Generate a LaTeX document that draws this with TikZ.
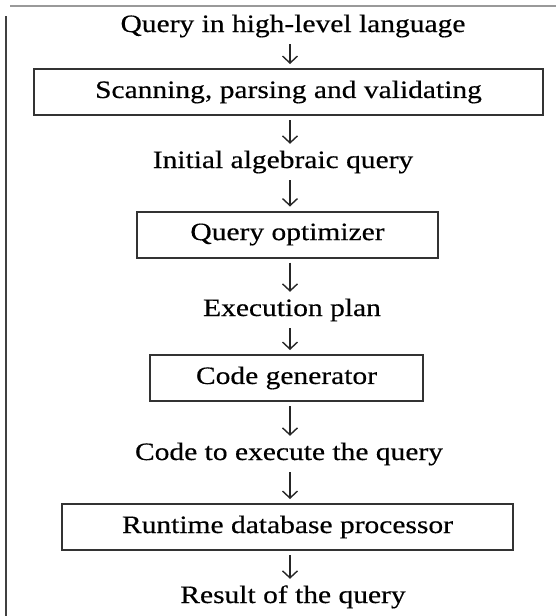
\documentclass[tikz,border=0pt]{standalone}
\usepackage{fontspec}
\setmainfont{Liberation Serif}[FakeStretch=1.18, FakeBold=0.4]
\usetikzlibrary{arrows.meta}

\begin{document}
\begin{tikzpicture}[
        x=1pt, y=-1pt, % координаты в пикселях, ось y вниз
        flowfont/.style={font=\fontsize{25pt}{30pt}\selectfont},
        stage/.style={draw=black!80, line width=2pt, minimum height=46pt, inner sep=0pt, flowfont}, % этапы
        flowtext/.style={anchor=base, inner xsep=0pt, inner ysep=2pt, text height=18pt, text depth=6pt, flowfont}, % промежуточные данные
        flow/.style={draw=black!85, line width=1.4pt, -{Straight Barb[length=7pt, width=15pt]}, shorten <=4pt, shorten >=4pt},
    ]

    \useasboundingbox (0,0) rectangle (556,616);
    \draw[black!40, line width=2.4pt] (10,6) -- (556,6); % рамка сверху
    \draw[black!75, line width=1.8pt] (6,16) -- (6,616); % рамка слева
    \coordinate (axis) at (290,0);

    \node[flowtext] (query) at (293,32) {Query in high-level language};
    \node[stage, minimum width=509pt] (scan) at (288.5,92) {Scanning, parsing and validating};
    \node[flowtext] (algebra) at (283,168) {Initial algebraic query};
    \node[stage, minimum width=301pt] (optim) at (287.5,234.5) {Query optimizer};
    \node[flowtext] (plan) at (292,316) {Execution plan};
    \node[stage, minimum width=273pt] (codegen) at (286.5,378) {Code generator};
    \node[flowtext] (code) at (289,460) {Code to execute the query};
    \node[stage, minimum width=451pt] (runtime) at (287.5,527) {Runtime database processor};
    \node[flowtext] (result) at (293,603) {Result of the query};

    \foreach \from/\to in {query/scan, scan/algebra, algebra/optim, optim/plan,
            plan/codegen, codegen/code, code/runtime, runtime/result}
        \draw[flow] (axis |- \from.south) -- (axis |- \to.north);

\end{tikzpicture}
\end{document}
